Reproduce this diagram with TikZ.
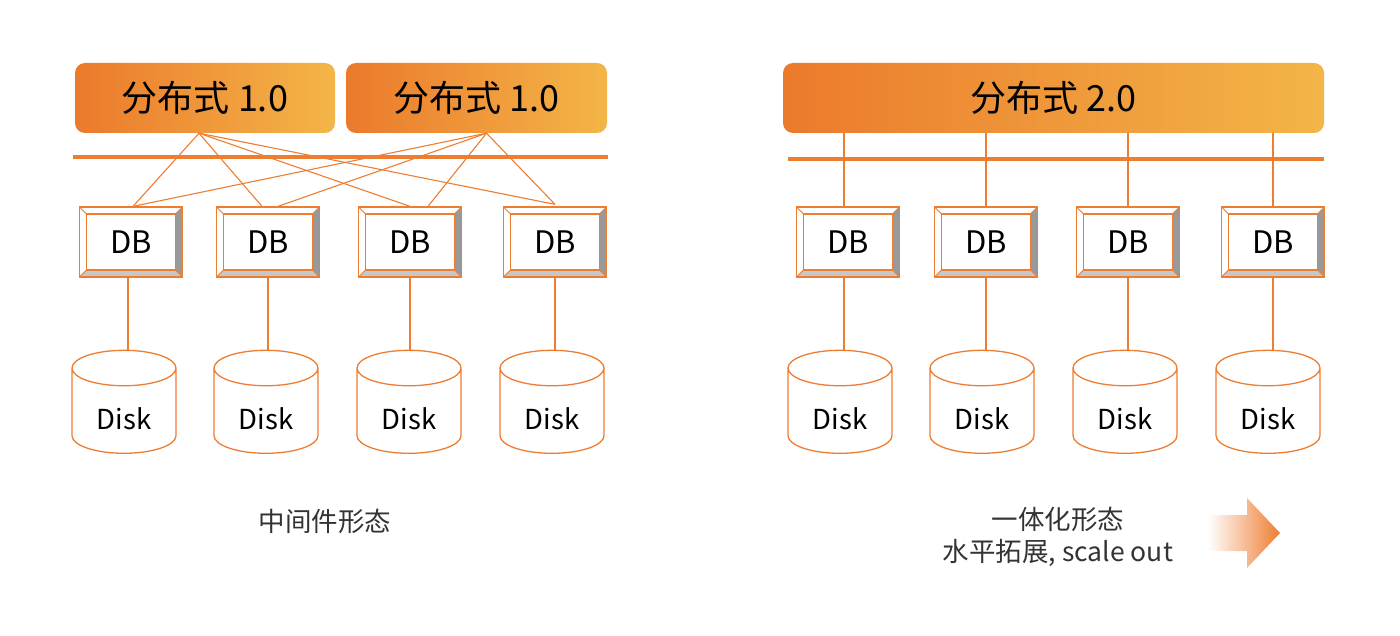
\documentclass[tikz,border=0pt]{standalone}
\usepackage{fontspec}
\setmainfont{Noto Sans CJK SC}
\usetikzlibrary{positioning,shapes.geometric,calc}
\definecolor{dborange}{HTML}{ED7D31}
\definecolor{gradleft}{HTML}{EB7A2C}
\definecolor{gradright}{HTML}{F3B548}
\definecolor{capgray}{HTML}{333333}
\tikzset{
  topbox/.style={rounded corners=10pt, left color=gradleft, right color=gradright,
    draw=none, minimum height=70pt, inner sep=0pt, font=\fontsize{36}{40}\selectfont},
  dbbox/.style={rectangle, draw=dborange, line width=1.3pt, fill=white,
    minimum width=103pt, minimum height=70pt, inner sep=0pt,
    font=\fontsize{31}{34}\selectfont,
    path picture={
      \fill[black!40] (path picture bounding box.north east) -- (path picture bounding box.south east)
        -- ([shift={(-7pt,7pt)}]path picture bounding box.south east)
        -- ([shift={(-7pt,-7pt)}]path picture bounding box.north east) -- cycle;
      \fill[black!22] (path picture bounding box.south west) -- (path picture bounding box.south east)
        -- ([shift={(-7pt,7pt)}]path picture bounding box.south east)
        -- ([shift={(7pt,7pt)}]path picture bounding box.south west) -- cycle;
      \draw[dborange, line width=0.8pt] (path picture bounding box.north west) -- ++(7pt,-7pt)
        (path picture bounding box.north east) -- ++(-7pt,-7pt)
        (path picture bounding box.south west) -- ++(7pt,7pt)
        (path picture bounding box.south east) -- ++(-7pt,7pt);
      \draw[dborange, line width=1.3pt] ([shift={(7pt,-7pt)}]path picture bounding box.north west)
        rectangle ([shift={(-7pt,7pt)}]path picture bounding box.south east);
    }},
  diskbox/.style={cylinder, shape border rotate=90, aspect=0.65, draw=dborange,
    line width=1.3pt, fill=white, minimum width=104pt, minimum height=103pt,
    inner sep=0pt, text height=36pt, text depth=0pt,
    font=\fontsize{27.5}{30}\selectfont},
  busline/.style={draw=dborange, line width=4pt},
  link/.style={draw=dborange, line width=1.1pt},
  caption/.style={text=capgray, align=center, font=\fontsize{26.5}{32}\selectfont},
}
\begin{document}
\begin{tikzpicture}[x=1pt, y=-1pt]
\useasboundingbox (0,0) rectangle (1400,636);
% --- middleware form ---
\node[topbox, minimum width=260pt] (mw1) at (205,98) {分布式 1.0};
\node[topbox, minimum width=261pt] (mw2) at (476.5,98) {分布式 1.0};
\draw[busline] (73,157) -- (608,157);
\node[dbbox] (db1) at (131,242) {DB};
\node[dbbox] (db2) at (268,242) {DB};
\node[dbbox] (db3) at (410,242) {DB};
\node[dbbox] (db4) at (555,242) {DB};
\node[diskbox] (dk1) at (124,411) {Disk};
\node[diskbox] (dk2) at (266,411) {Disk};
\node[diskbox] (dk3) at (409,411) {Disk};
\node[diskbox] (dk4) at (552,411) {Disk};
\coordinate (mw1p) at ([xshift=-6pt]mw1.south);
\coordinate (mw2p) at ([xshift=10pt]mw2.south);
\draw[link] (mw1p) -- ([xshift=2pt]db1.north);
\draw[link] (mw1p) -- ([xshift=-6pt]db2.north);
\draw[link] (mw1p) -- (db3.north);
\draw[link] (mw1p) -- ([yshift=2pt]db4.north);
\draw[link] (mw2p) -- ([xshift=2pt]db1.north);
\draw[link] (mw2p) -- ([xshift=10pt]db2.north);
\draw[link] (mw2p) -- ([xshift=18pt]db3.north);
\draw[link] (mw2p) -- ([yshift=2pt]db4.north);
\draw[link] ([xshift=-3pt]db1.south) -- ([xshift=-3pt]db1.south |- dk1.north);
\draw[link] (db2.south) -- (db2.south |- dk2.north);
\draw[link] (db3.south) -- (db3.south |- dk3.north);
\draw[link] (db4.south) -- (db4.south |- dk4.north);
\node[caption] (cap1) at (325,521) {中间件形态};
% --- integrated form ---
\node[topbox, minimum width=541pt] (ig) at (1053.5,98) {分布式 2.0};
\draw[busline] (788,159) -- (1324,159);
\node[dbbox] (db5) at (848,242) {DB};
\node[dbbox] (db6) at (986,242) {DB};
\node[dbbox] (db7) at (1128,242) {DB};
\node[dbbox] (db8) at (1273,242) {DB};
\node[diskbox] (dk5) at (840,411) {Disk};
\node[diskbox] (dk6) at (982,411) {Disk};
\node[diskbox] (dk7) at (1125,411) {Disk};
\node[diskbox] (dk8) at (1268,411) {Disk};
\draw[link] ([xshift=-4pt]db5.north |- ig.south) -- ([xshift=-4pt]db5.north);
\draw[link] (db6.north |- ig.south) -- (db6.north);
\draw[link] (db7.north |- ig.south) -- (db7.north);
\draw[link] (db8.north |- ig.south) -- (db8.north);
\draw[link] ([xshift=-4pt]db5.south) -- ([xshift=-4pt]db5.south |- dk5.north);
\draw[link] (db6.south) -- (db6.south |- dk6.north);
\draw[link] (db7.south) -- (db7.south |- dk7.north);
\draw[link] (db8.south) -- (db8.south |- dk8.north);
\node[caption] (cap2) at (1058,537) {一体化形态\\水平拓展, scale out};
\shade[left color=white, right color=dborange]
  (1208,515) -- (1247,515) -- (1247,498) -- (1280,533) -- (1247,568) -- (1247,551) -- (1208,551) -- cycle;
\end{tikzpicture}
\end{document}
